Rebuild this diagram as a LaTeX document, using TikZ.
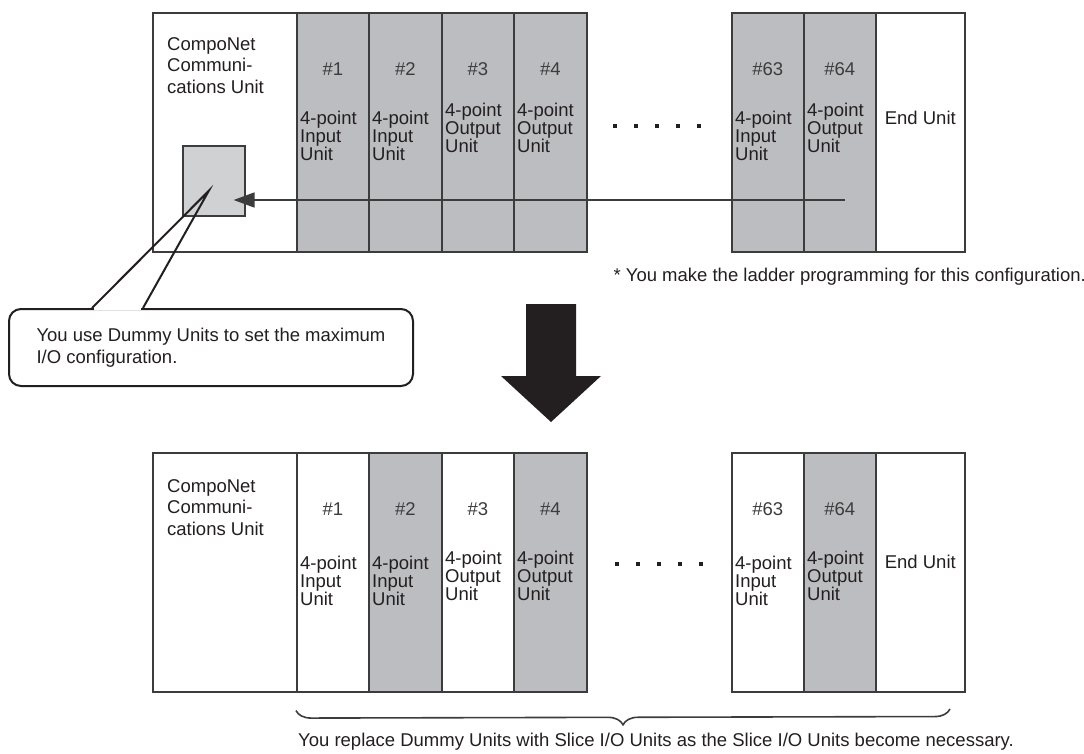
\documentclass[tikz,border=0pt]{standalone}
\usepackage{fontspec}
\setmainfont{Liberation Sans}
\usepackage{tikz}
\usetikzlibrary{arrows.meta,calc,decorations.pathreplacing,positioning}

\definecolor{framegray}{HTML}{3C3C3C}
\definecolor{slicegray}{HTML}{BCBDC0}
\definecolor{dummygray}{HTML}{D0D1D3}
\definecolor{inkblack}{HTML}{231F20}

\begin{document}
\begin{tikzpicture}[
    x=1pt, y=-1pt,
    font=\fontsize{18.5}{21.5}\selectfont, text=inkblack,
    slotbox/.style={draw=framegray, line width=1.6pt, minimum height=239, inner sep=0, anchor=north west},
    slotnum/.style={text=framegray},
    slotname/.style={align=left, inner sep=0, anchor=north west, font=\fontsize{18.5}{18}\selectfont},
    feedarrow/.style={draw=framegray, line width=1.8pt, -{Triangle[length=21pt, width=15pt]}},
    notebox/.style={draw=inkblack, line width=2pt, rounded corners=12, fill=white, align=left}
  ]
    \useasboundingbox (0,0) rectangle (1084,754);

    % upper configuration: all Dummy Units
    \node[slotbox, fill=white, minimum width=144] (comm-up) at (152,12) {};
    \node[slotname, font=\fontsize{18.5}{21.5}\selectfont] at ($(comm-up.north west)+(15,25)$) {CompoNet\\Communi-\\cations Unit};
    \foreach \id/\xx/\ww/\kind/\dy in {1/296/72/Input/99, 2/368/73/Input/99, 3/441/72/Output/91, 4/513/73/Output/91, 63/731/72/Input/99, 64/803/72/Output/91} {
      \node[slotbox, fill=slicegray, minimum width=\ww] (up\id) at (\xx,12) {};
      \node[slotnum] at ($(up\id.north)+(0,57)$) {\#\id};
      \node[slotname] at ($(up\id.north west)+(4,\dy)$) {4-point\\\kind\\Unit};
    }
    \node[slotbox, fill=white, minimum width=89] (end-up) at (875,12) {};
    \node at ($(end-up.north)+(0,106)$) {End Unit};
    \foreach \xx in {615,636,657,678,699}
      \fill[inkblack] (\xx-2,124) rectangle +(4,4);

    \node[draw=framegray, line width=1.6pt, fill=dummygray, minimum width=62, minimum height=70, inner sep=0, anchor=north west] (dummy) at (182,145) {};
    \coordinate (feed) at (845,200);
    \draw[feedarrow] (feed) -- ($(dummy.east |- feed)+(-12,0)$);

    \node[anchor=west] (ladder-note) at (610,277) {* You make the ladder programming for this configuration.};

    % callout
    \node[notebox, minimum width=404, minimum height=77, anchor=north west] (note) at (8,308) {You use Dummy Units to set the maximum\\I/O configuration.};
    \coordinate (dummy-tip) at ($(dummy.center)+(-5,10)$);
    \draw[white, line width=3pt] ($(note.north west)+(86,0)$) -- ($(note.north west)+(133,0)$);
    \draw[inkblack, line width=2pt, line join=miter] ($(note.north west)+(84,0)$) -- (dummy-tip) -- ($(note.north west)+(135,0)$);

    % big arrow
    \fill[inkblack] (526,304) -- (576,304) -- (576,376) -- (601,376) -- (551,422) -- (501,376) -- (526,376) -- cycle;

    % lower configuration: Slice I/O Units as needed
    \node[slotbox, fill=white, minimum width=144] (comm-lo) at (152,452) {};
    \node[slotname, font=\fontsize{18.5}{21.5}\selectfont] at ($(comm-lo.north west)+(15,27)$) {CompoNet\\Communi-\\cations Unit};
    \foreach \id/\xx/\ww/\kind/\dy/\tint in {1/296/72/Input/104/white, 2/368/73/Input/104/slicegray, 3/441/72/Output/99/white, 4/513/73/Output/99/slicegray, 63/731/72/Input/104/white, 64/803/72/Output/99/slicegray} {
      \node[slotbox, fill=\tint, minimum width=\ww] (lo\id) at (\xx,452) {};
      \node[slotnum] at ($(lo\id.north)+(0,57)$) {\#\id};
      \node[slotname] at ($(lo\id.north west)+(4,\dy)$) {4-point\\\kind\\Unit};
    }
    \node[slotbox, fill=white, minimum width=89] (end-lo) at (875,452) {};
    \node at ($(end-lo.north)+(0,110)$) {End Unit};
    \foreach \xx in {617,638,659,680,701}
      \fill[inkblack] (\xx-2,562) rectangle +(4,4);

    \coordinate (brace-a) at ($(lo1.south west)+(0,18)$);
    \coordinate (brace-b) at (950,709);
    \draw[framegray, line width=1.6pt, decorate, decoration={brace, mirror, amplitude=15}] (brace-a) -- (brace-b);
    \node (swap-note) at (656,742) {You replace Dummy Units with Slice I/O Units as the Slice I/O Units become necessary.};
  \end{tikzpicture}
\end{document}
